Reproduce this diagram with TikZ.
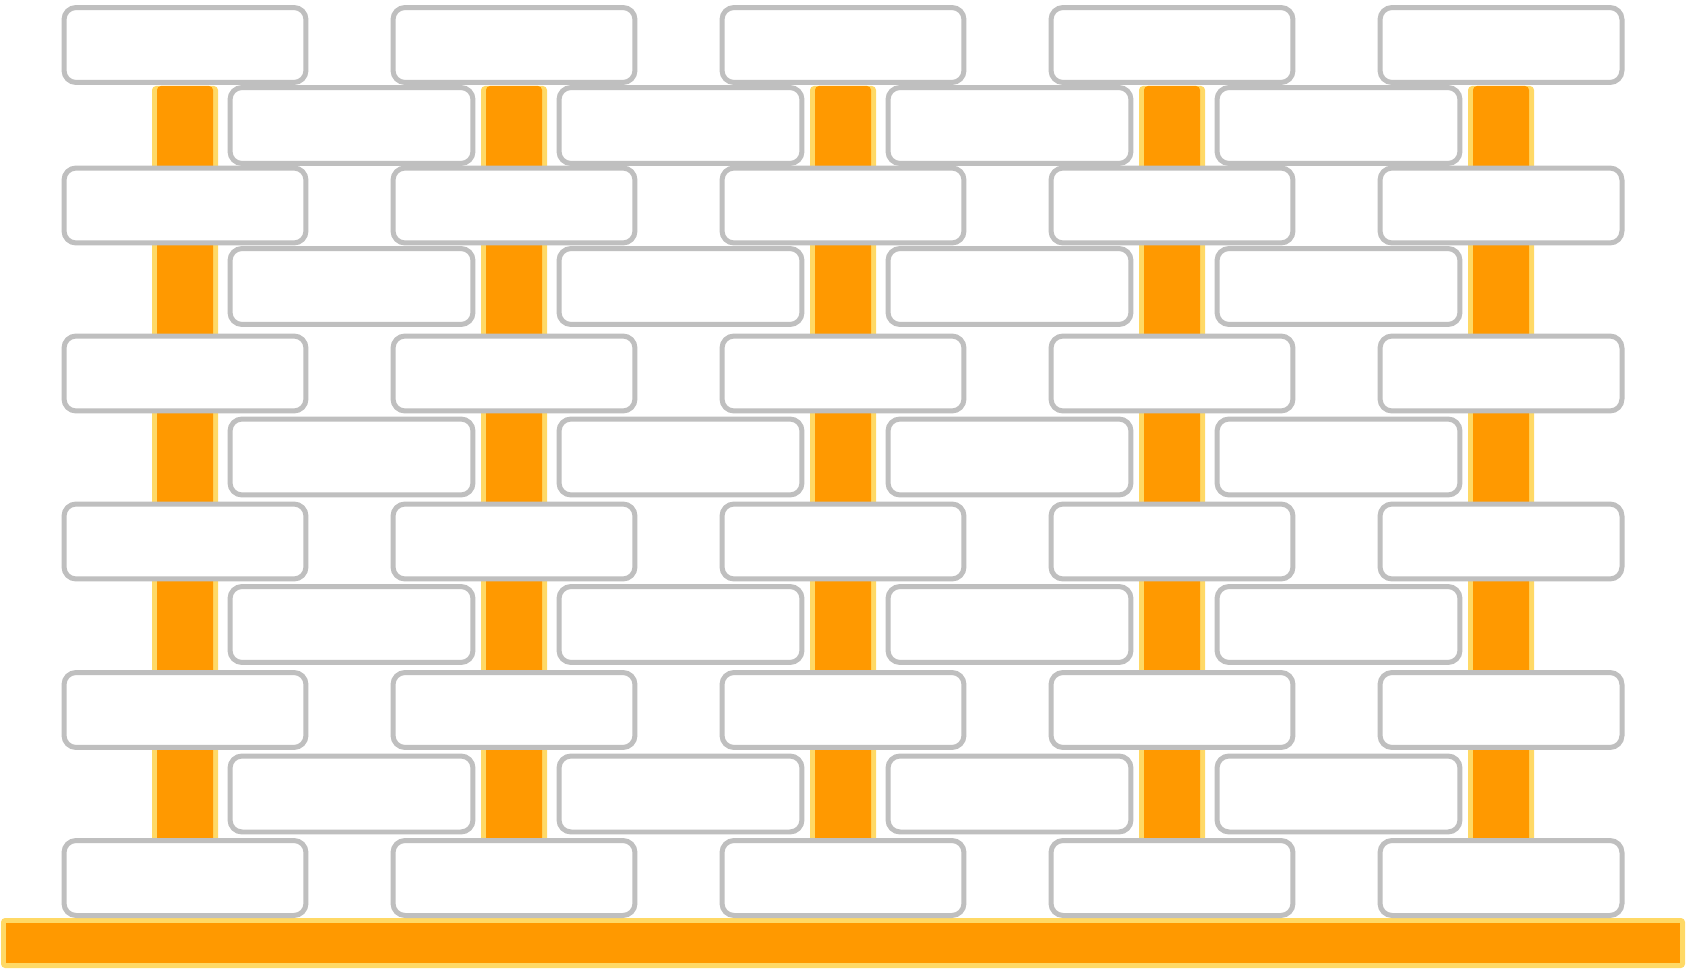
\documentclass[tikz,border=0pt]{standalone}
\definecolor{brickgray}{HTML}{BFBFBF}
\definecolor{postfill}{HTML}{FF9900}
\definecolor{postedge}{HTML}{FFD966}
\begin{document}
\begin{tikzpicture}[x=0.02cm,y=-0.02cm,
  brick/.style={draw=brickgray,line width=0.1cm,fill=white,rounded corners=0.24cm,
    minimum width=4.84cm,minimum height=1.5cm,inner sep=0pt,outer sep=0pt},
  halfbrick/.style={brick,minimum width=4.86cm,minimum height=1.52cm}]
\useasboundingbox (0,0) rectangle (1686,969);
\foreach \c in {0,...,4}{
  \fill[postedge,rounded corners=0.08cm] ({152+329*\c},86) rectangle ({218+329*\c},920);
  \fill[postfill,rounded corners=0.08cm] ({157+329*\c},86) rectangle ({213+329*\c},920);
}
\fill[postedge,rounded corners=0.08cm] (1,918) rectangle (1685,968);
\fill[postfill] (6,923) rectangle (1680,963);
\foreach \y [count=\r] in {45,205.5,373.5,541.5,710,878}
  \foreach \c in {0,...,4}
    \node[brick] (a-\r-\c) at ({185+329*\c},\y) {};
\foreach \y [count=\r] in {125.5,286.5,457,624.5,794}
  \foreach \c in {0,...,3}
    \node[halfbrick] (b-\r-\c) at ({351.5+329*\c},\y) {};
\end{tikzpicture}
\end{document}
